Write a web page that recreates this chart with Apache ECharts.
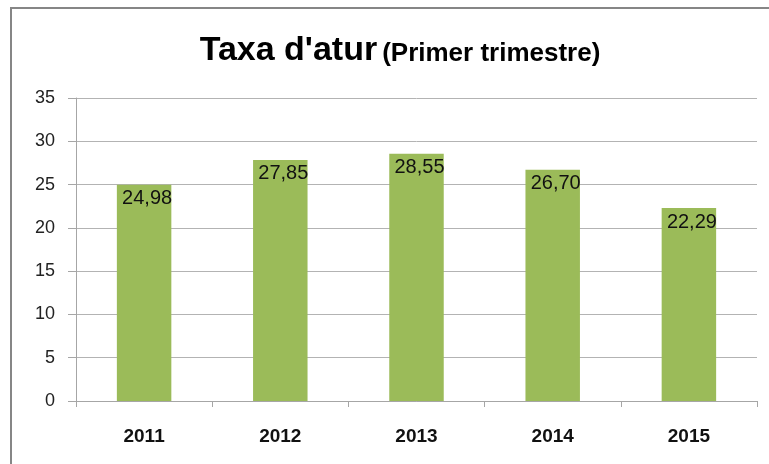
<!DOCTYPE html>
<html>
<head>
<meta charset="utf-8">
<script src="https://cdn.jsdelivr.net/npm/echarts@6/dist/echarts.min.js"></script>
<style>
html,body{margin:0;padding:0;background:#fff;}
#chart{width:769px;height:464px;}
</style>
</head>
<body>
<div id="chart"></div>
<script>
var categories = ['2011', '2012', '2013', '2014', '2015'];
var values = [24.98, 27.85, 28.55, 26.70, 22.29];
var yTicks = { min: 0, max: 35, interval: 5 };
var titleMain = "Taxa d'atur";
var titleSub = "(Primer trimestre)";

var FONT = "'Liberation Sans', 'DejaVu Sans', sans-serif";
var chart = echarts.init(document.getElementById('chart'), null, { renderer: 'canvas' });
chart.setOption({
  backgroundColor: '#ffffff',
  animation: false,
  graphic: [{
    type: 'rect',
    shape: { x: 11, y: 8, width: 800, height: 500 },
    style: { fill: 'none', stroke: '#868686', lineWidth: 2 },
    silent: true
  }],
  title: {
    text: '{a|' + titleMain + '} {b|' + titleSub + '}',
    left: 395,
    textAlign: 'center',
    top: 29,
    textStyle: {
      rich: {
        a: { fontFamily: FONT, fontSize: 34, fontWeight: 'bold', color: '#000' },
        b: { fontFamily: FONT, fontSize: 26, fontWeight: 'bold', color: '#000', padding: [5, 0, 0, 0] }
      }
    }
  },
  grid: { left: 76, right: 12, top: 98, bottom: 63 },
  xAxis: {
    type: 'category',
    data: categories,
    axisLine: { show: true, lineStyle: { color: '#a6a6a6', width: 1 } },
    axisTick: { show: true, alignWithLabel: false, length: 6, lineStyle: { color: '#a6a6a6' } },
    axisLabel: { margin: 26, fontFamily: FONT, fontSize: 19, fontWeight: 'bold', color: '#111' }
  },
  yAxis: {
    type: 'value',
    min: yTicks.min, max: yTicks.max, interval: yTicks.interval,
    axisLine: { show: true, lineStyle: { color: '#a6a6a6', width: 1 } },
    axisTick: { show: true, length: 8, lineStyle: { color: '#a6a6a6' } },
    splitLine: { show: true, lineStyle: { color: '#b3b3b3', width: 1 } },
    axisLabel: { margin: 21, fontFamily: FONT, fontSize: 18, color: '#222' }
  },
  series: [{
    type: 'bar',
    data: values,
    barWidth: '40%',
    itemStyle: { color: '#9bbb59' },
    label: {
      show: true,
      position: 'insideTop',
      distance: 4,
      offset: [3, 0],
      fontFamily: FONT,
      fontSize: 20,
      color: '#111',
      formatter: function (p) { return p.value.toFixed(2).replace('.', ','); }
    }
  }]
});
</script>
</body>
</html>
